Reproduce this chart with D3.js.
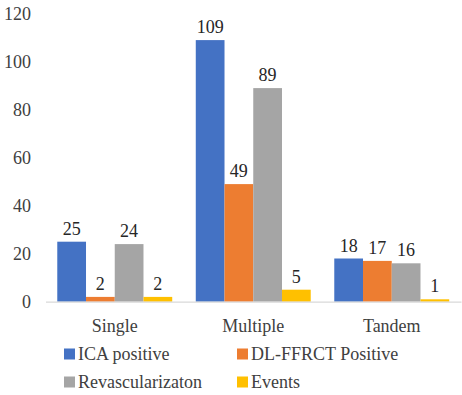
<!DOCTYPE html>
<html><head><meta charset="utf-8">
<script src="https://cdn.jsdelivr.net/npm/d3@7/dist/d3.min.js"></script>
<style>body{margin:0;background:#fff}svg{display:block}svg text{font-family:'Liberation Serif' !important}</style>
</head><body><svg id="c" width="462" height="395"></svg>
<script>
const categories = ["Single", "Multiple", "Tandem"];
const seriesNames = ["ICA positive", "DL-FFRCT Positive", "Revascularizaton", "Events"];
const icaPositive = [25, 109, 18];
const dlFfrctPositive = [2, 49, 17];
const revascularization = [24, 89, 16];
const events = [2, 5, 1];
const yTicks = [0, 20, 40, 60, 80, 100, 120];
const colors = ["#4472C4", "#ED7D31", "#A5A5A5", "#FFC000"];

const FONT = "'Liberation Serif'";
const seriesValues = [icaPositive, dlFfrctPositive, revascularization, events];
const svg = d3.select("#c");
const fs = 18;
const y = d3.scaleLinear().domain([0, 120]).range([301.7, 13.7]);
const x0 = d3.scaleBand().domain(categories).range([45.5, 461]).paddingInner(0.17).paddingOuter(0.085);
const x1 = d3.scaleBand().domain(seriesNames).range([0, x0.bandwidth()]);

// y axis labels
const yAxis = d3.axisLeft(y).tickValues(yTicks).tickSize(0).tickPadding(0);
const ya = svg.append("g").attr("transform", "translate(31,0)").call(yAxis);
ya.attr("font-family", FONT);
ya.select(".domain").remove();
ya.selectAll("text").attr("font-size", fs).attr("font-family", FONT).style("font-family", FONT, "important").attr("fill", "#404040").attr("dy", "0.34em");

// bars
const groups = svg.append("g").selectAll("g").data(categories).join("g")
  .attr("transform", d => `translate(${x0(d)},0)`);
groups.selectAll("rect").data((c, ci) => seriesNames.map((s, si) => ({s, si, v: seriesValues[si][ci]})))
  .join("rect")
  .attr("x", d => x1(d.s)).attr("width", x1.bandwidth())
  .attr("y", d => y(d.v)).attr("height", d => y(0) - y(d.v))
  .attr("fill", d => colors[d.si]);
groups.selectAll("text").data((c, ci) => seriesNames.map((s, si) => ({s, si, v: seriesValues[si][ci]})))
  .join("text")
  .attr("x", d => x1(d.s) + x1.bandwidth() / 2).attr("y", d => y(d.v) - 7)
  .attr("text-anchor", "middle").attr("font-size", fs)
  .attr("font-family", FONT).style("font-family", FONT, "important")
  .attr("fill", "#262626")
  .text(d => d.v);

// x axis
const xAxis = d3.axisBottom(x0).tickSize(0).tickPadding(0);
const xa = svg.append("g").attr("transform", `translate(0,${y(0)})`).call(xAxis);
xa.attr("font-family", FONT);
xa.select(".domain").attr("stroke", "#D9D9D9").attr("stroke-width", 1.2);
xa.selectAll("text").attr("font-size", fs).attr("font-family", FONT).style("font-family", FONT, "important").attr("fill", "#404040").attr("y", 30).attr("dy", 0);

// legend
const legendPos = [[64, 354], [237, 354], [64, 382], [237, 382]];
const lg = svg.append("g").selectAll("g").data(seriesNames).join("g")
  .attr("transform", (d, i) => `translate(${legendPos[i][0]},${legendPos[i][1]})`);
lg.append("rect").attr("x", 0).attr("y", -5.5).attr("width", 11).attr("height", 11).attr("fill", (d, i) => colors[i]);
lg.append("text").attr("x", 14).attr("y", 0).attr("dy", "0.34em").attr("font-size", fs)
  .attr("font-family", FONT).style("font-family", FONT, "important").attr("fill", "#404040").text(d => d);
</script></body></html>
